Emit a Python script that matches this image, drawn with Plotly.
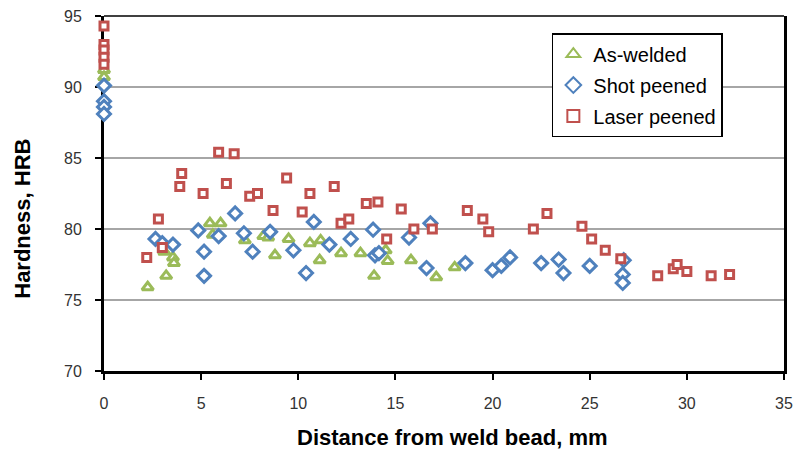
import plotly.graph_objects as go

# ---------------- data ----------------
aw_x = [0, 0, 2.25, 3.2, 3.1, 3.55, 3.6, 5.45, 6.0, 5.6, 7.25, 8.2, 8.45, 8.8, 9.5,
        10.6, 11.15, 11.1, 12.2, 13.2, 13.9, 14.5, 14.6, 15.8, 17.1, 18.05]
aw_y = [91.2, 90.7, 75.9, 76.7, 78.4, 78.0, 77.6, 80.4, 80.4, 79.6, 79.2, 79.5, 79.4, 78.15, 79.3,
        79.0, 79.2, 77.8, 78.3, 78.3, 76.7, 78.5, 77.75, 77.8, 76.6, 77.3]

sp_x = [0, 0, 0, 0, 2.65, 3.0, 3.55, 4.85, 5.15, 5.15, 5.9, 6.75, 7.2, 7.65, 8.55, 9.75,
        10.4, 10.8, 11.6, 12.7, 13.85, 13.95, 14.15, 15.7, 16.6, 16.8, 18.6, 20.0, 20.45,
        20.9, 22.5, 23.4, 23.65, 25.0, 26.75, 26.7, 26.7]
sp_y = [90.1, 89.0, 88.6, 88.1, 79.3, 79.0, 78.9, 79.9, 78.4, 76.7, 79.5, 81.1, 79.7, 78.4, 79.8, 78.5,
        76.9, 80.5, 78.9, 79.3, 79.95, 78.15, 78.3, 79.4, 77.25, 80.4, 77.6, 77.1, 77.4,
        78.0, 77.6, 77.85, 76.9, 77.4, 77.8, 76.8, 76.2]

lp_x = [0, 0, 0, 0, 0, 2.2, 2.8, 3.0, 3.9, 4.0, 5.1, 5.9, 6.3, 6.7, 7.5, 7.9, 8.7, 9.4,
        10.2, 10.6, 11.85, 12.2, 12.6, 13.5, 14.1, 14.55, 15.3, 15.95, 16.9, 18.7, 19.5,
        19.8, 22.1, 22.8, 24.6, 25.1, 25.8, 26.6, 28.5, 29.3, 29.5, 30.0, 31.25, 32.2]
lp_y = [94.3, 93.0, 92.6, 92.1, 91.6, 78.0, 80.7, 78.7, 83.0, 83.9, 82.5, 85.4, 83.2, 85.3, 82.3, 82.5, 81.3, 83.6,
        81.2, 82.5, 83.0, 80.4, 80.7, 81.8, 81.9, 79.3, 81.4, 80.0, 80.0, 81.3, 80.7,
        79.8, 80.0, 81.1, 80.2, 79.3, 78.5, 77.9, 76.7, 77.2, 77.5, 77.0, 76.7, 76.8]

x_ticks = [0, 5, 10, 15, 20, 25, 30, 35]
y_ticks = [70, 75, 80, 85, 90, 95]

GREEN = "#9BBB59"
BLUE = "#4F81BD"
RED = "#C0504D"
FONT = "Liberation Sans, Arial, sans-serif"

fig = go.Figure()

def add(name, xs, ys, symbol, color, size):
    fig.add_trace(go.Scatter(
        x=xs, y=ys, mode="markers", name=name, legendgroup=name,
        cliponaxis=False,
        marker=dict(symbol=symbol, size=size, color="white",
                    line=dict(color=color, width=3)),
    ))

add("As-welded", aw_x, aw_y, "triangle-up", GREEN, 10)
add("Shot peened", sp_x, sp_y, "diamond", BLUE, 10)
add("Laser peened", lp_x, lp_y, "square", RED, 8)

fig.update_layout(
    width=799, height=451,
    margin=dict(l=104, r=15, t=16, b=80, autoexpand=False),
    paper_bgcolor="white", plot_bgcolor="white",
    font=dict(family=FONT, color="#222222"),
    showlegend=True,
    legend=dict(
        x=0.6586, y=0.952, xanchor="left", yanchor="top",
        bgcolor="white", bordercolor="black", borderwidth=1.5,
        font=dict(family=FONT, size=20, color="black"),
        traceorder="grouped", tracegroupgap=2,
        itemsizing="constant", itemwidth=30,
    ),
    xaxis=dict(
        range=[0, 35], tickvals=x_ticks, ticktext=[str(v) for v in x_ticks],
        showgrid=False, zeroline=False, automargin=False,
        showline=True, linecolor="black", linewidth=3, mirror=False,
        ticks="outside", ticklen=6, tickwidth=2, tickcolor="black",
        tickfont=dict(size=16, color="#333333"), ticklabelstandoff=10,
        layer="below traces",
    ),
    yaxis=dict(
        range=[70, 95], tickvals=y_ticks, ticktext=[str(v) for v in y_ticks],
        showgrid=True, gridcolor="#A6A6A6", gridwidth=1.5, zeroline=False, automargin=False,
        showline=True, linecolor="black", linewidth=3, mirror=True,
        ticks="outside", ticklen=6, tickwidth=2, tickcolor="black",
        tickfont=dict(size=16, color="#333333"), ticklabelstandoff=10,
        layer="below traces",
    ),
    shapes=[dict(type="line", xref="paper", yref="paper", x0=0, x1=1, y0=1, y1=1,
                 line=dict(color="black", width=1.5), layer="below")],
    annotations=[
        dict(text="<b>Distance from weld bead, mm</b>", xref="paper", yref="paper",
             x=0.513, y=-0.187, xanchor="center", yanchor="middle", showarrow=False,
             font=dict(family=FONT, size=22, color="black")),
        dict(text="<b>Hardness, HRB</b>", xref="paper", yref="paper", textangle=-90,
             x=-0.12, y=0.43, xanchor="center", yanchor="middle", showarrow=False,
             font=dict(family=FONT, size=22, color="black")),
    ],
)

fig.write_html(
    "out.html",
    config={"displayModeBar": False},
    post_script="document.body.style.margin='0';document.body.style.overflow='hidden';",
)
